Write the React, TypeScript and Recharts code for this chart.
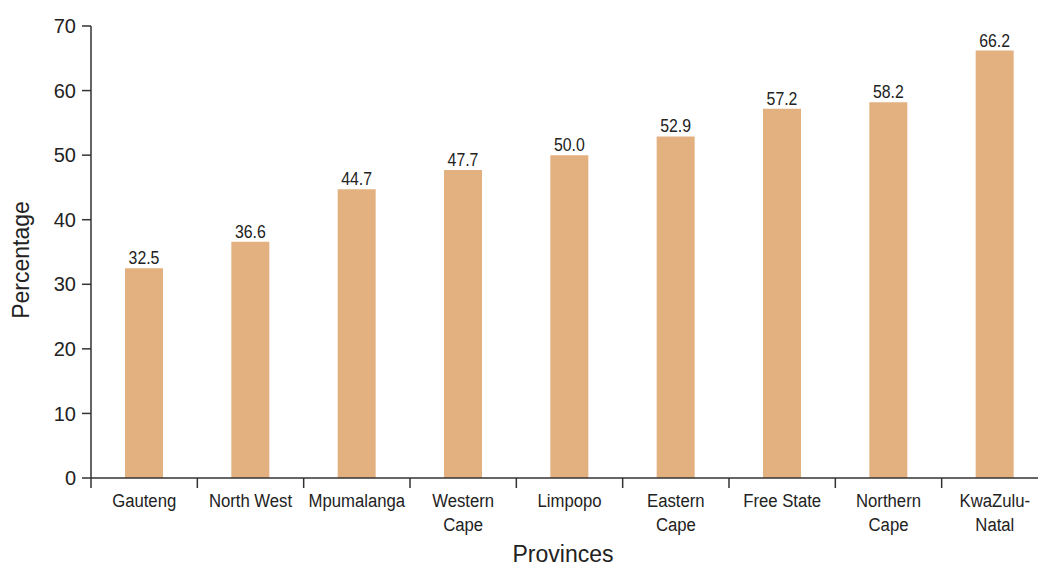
import React from 'react';
import { BarChart, Bar, XAxis, YAxis, LabelList } from 'recharts';

// Share of households per province (percentage)
const provinces = [
  'Gauteng',
  'North West',
  'Mpumalanga',
  'Western Cape',
  'Limpopo',
  'Eastern Cape',
  'Free State',
  'Northern Cape',
  'KwaZulu-Natal',
];
const percentages = [32.5, 36.6, 44.7, 47.7, 50.0, 52.9, 57.2, 58.2, 66.2];
const tickLines: string[][] = [
  ['Gauteng'],
  ['North West'],
  ['Mpumalanga'],
  ['Western', 'Cape'],
  ['Limpopo'],
  ['Eastern', 'Cape'],
  ['Free State'],
  ['Northern', 'Cape'],
  ['KwaZulu-', 'Natal'],
];
const yTicks = [0, 10, 20, 30, 40, 50, 60, 70];

const data = provinces.map((name, i) => ({ name, value: percentages[i] }));

const FONT = '"Liberation Sans", Arial, Helvetica, sans-serif';
const TEXT = '#222';
const AXIS = '#333';
const BAR = '#E3B07F';

const CHART_W = 1050;
const CHART_H = 567;
const MARGIN = { top: 26, right: 2, bottom: 0, left: 0 };
const Y_AXIS_W = 91;
const X_AXIS_H = 89;
const BAND = (CHART_W - MARGIN.left - MARGIN.right - Y_AXIS_W) / provinces.length;
const NARROW = 0.88;

// Slightly condensed text, anchored at (x, y)
const NarrowText = ({ x, y, size, children }: any) => (
  <text
    transform={`translate(${x},${y}) scale(${NARROW},1)`}
    textAnchor="middle"
    fontFamily={FONT}
    fontSize={size}
    fill={TEXT}
  >
    {children}
  </text>
);

const XTick = (props: any) => {
  const { x, y, index } = props;
  const lines = tickLines[index] || [];
  return (
    <g>
      <line x1={x - BAND / 2} x2={x - BAND / 2} y1={y} y2={y + 10} stroke={AXIS} strokeWidth={1.5} />
      {lines.map((l, i) => (
        <NarrowText key={i} x={x} y={y + 29 + i * 24} size={19}>
          {l}
        </NarrowText>
      ))}
    </g>
  );
};

const YTick = (props: any) => {
  const { x, y, payload } = props;
  return (
    <text x={x} y={y} dy="0.36em" textAnchor="end" fontFamily={FONT} fontSize={20} fill={TEXT}>
      {payload.value}
    </text>
  );
};

const ValueLabel = (props: any) => {
  const { x, y, width, value } = props;
  return (
    <NarrowText x={Number(x) + Number(width) / 2} y={Number(y) - 4} size={18}>
      {Number(value).toFixed(1)}
    </NarrowText>
  );
};

const XTitle = () => (
  <text x={563} y={562} textAnchor="middle" fontFamily={FONT} fontSize={23} fill={TEXT}>
    Provinces
  </text>
);

const YTitle = () => (
  <text transform="translate(29,260) rotate(-90)" textAnchor="middle" fontFamily={FONT} fontSize={23} fill={TEXT}>
    Percentage
  </text>
);

export default function App() {
  return (
    <div style={{ position: 'absolute', left: 0, top: 0, width: 1038, height: 567, overflow: 'hidden', background: '#fff' }}>
      <BarChart width={CHART_W} height={CHART_H} data={data} margin={MARGIN} barCategoryGap={0}>
        <XAxis
          dataKey="name"
          height={X_AXIS_H}
          tickLine={false}
          tickSize={0}
          tickMargin={0}
          axisLine={{ stroke: AXIS, strokeWidth: 1.5 }}
          tick={<XTick />}
          interval={0}
          label={{ content: () => <XTitle /> }}
        />
        <YAxis
          width={Y_AXIS_W}
          domain={[0, 70]}
          ticks={yTicks}
          interval={0}
          tickSize={9}
          tickMargin={6}
          tickLine={{ stroke: AXIS, strokeWidth: 1.5 }}
          axisLine={{ stroke: AXIS, strokeWidth: 1.5 }}
          tick={<YTick />}
          label={{ content: () => <YTitle /> }}
        />
        <Bar dataKey="value" fill={BAR} barSize={38} isAnimationActive={false}>
          <LabelList dataKey="value" content={<ValueLabel />} />
        </Bar>
      </BarChart>
    </div>
  );
}
